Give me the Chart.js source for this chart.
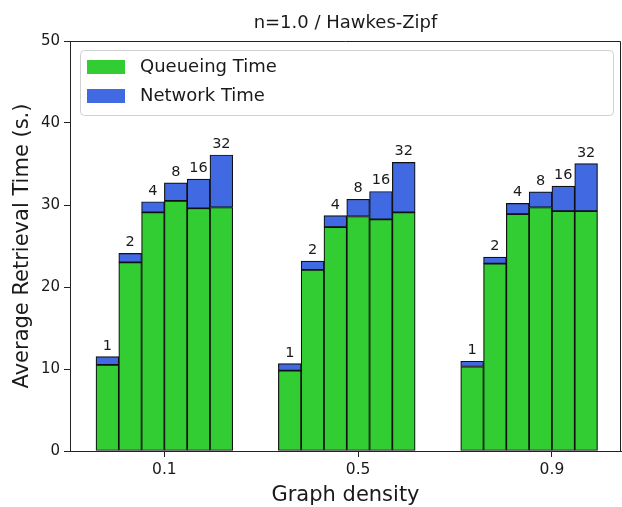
<!DOCTYPE html>
<html>
<head>
<meta charset="utf-8">
<script src="https://cdn.jsdelivr.net/npm/chart.js@4.4.1/dist/chart.umd.min.js"></script>
<style>
  html, body { margin: 0; padding: 0; background: #fff; }
  canvas { display: block; }
</style>
</head>
<body>
<canvas id="chart" width="622" height="507"></canvas>
<script>
// densities on the x axis and worker counts labelled above each bar
const densities = ['0.1', '0.5', '0.9'];
const workers = ['1', '2', '4', '8', '16', '32'];

// seconds, per density group (6 bars each)
const queueingTime = [
  10.5, 23.0, 29.1, 30.5, 29.6, 29.7,
  9.8, 22.1, 27.3, 28.6, 28.25, 29.1,
  10.3, 22.85, 28.9, 29.7, 29.25, 29.25
];
const networkTime = [
  1.0, 1.1, 1.3, 2.2, 3.55, 6.4,
  0.85, 1.05, 1.4, 2.1, 3.4, 6.1,
  0.65, 0.8, 1.3, 1.9, 3.05, 5.8
];
const yTicks = [0, 10, 20, 30, 40, 50];

// bar slots: each group takes 8 slots (6 bars + gap)
const slotsPerGroup = 8;
const tickSlots = [3, 11.5, 20];

const font = "'DejaVu Sans', sans-serif";
const textColor = '#1a1a1a';
const green = '#32cd32';
const blue = '#4169e1';

function barX(i) {
  const g = Math.floor(i / workers.length);
  const k = i % workers.length;
  return g * slotsPerGroup + k + 0.5;
}

const qData = queueingTime.map((v, i) => ({ x: barX(i), y: v }));
const nData = networkTime.map((v, i) => ({ x: barX(i), y: v }));

const overlay = {
  id: 'overlay',
  afterDatasetsDraw(chart) {
    const ctx = chart.ctx;
    const meta = chart.getDatasetMeta(1);
    ctx.save();
    ctx.fillStyle = textColor;
    ctx.font = '14.5px ' + font;
    ctx.textAlign = 'center';
    ctx.textBaseline = 'alphabetic';
    meta.data.forEach((bar, i) => {
      ctx.fillText(workers[i % workers.length], bar.x, bar.y - 7);
    });
    ctx.restore();
  },
  afterDraw(chart) {
    const ctx = chart.ctx;
    const a = chart.chartArea;
    ctx.save();
    // top / right spines
    ctx.strokeStyle = '#222';
    ctx.lineWidth = 1;
    ctx.beginPath();
    ctx.moveTo(a.left, a.top + 0.5);
    ctx.lineTo(a.right - 0.5, a.top + 0.5);
    ctx.lineTo(a.right - 0.5, a.bottom);
    ctx.stroke();

    // title
    ctx.fillStyle = textColor;
    ctx.font = '18px ' + font;
    ctx.textAlign = 'center';
    ctx.textBaseline = 'middle';
    ctx.fillText('n=1.0 / Hawkes-Zipf', (a.left + a.right) / 2, 23);

    // legend
    const lx = 80, ly = 50, lw = 533, lh = 65;
    ctx.beginPath();
    ctx.roundRect(lx + 0.5, ly + 0.5, lw, lh, 4);
    ctx.fillStyle = 'rgba(255,255,255,0.8)';
    ctx.fill();
    ctx.strokeStyle = '#d0d0d0';
    ctx.stroke();
    const items = chart.data.datasets;
    items.forEach((ds, i) => {
      const cy = 67 + i * 29;
      ctx.fillStyle = ds.backgroundColor;
      ctx.fillRect(87, cy - 7, 38, 14);
      ctx.fillStyle = textColor;
      ctx.font = '18px ' + font;
      ctx.textAlign = 'left';
      ctx.textBaseline = 'middle';
      ctx.fillText(ds.label, 140, cy);
    });
    ctx.restore();
  }
};

new Chart(document.getElementById('chart'), {
  type: 'bar',
  data: {
    datasets: [
      {
        label: 'Queueing Time',
        data: qData,
        backgroundColor: green,
        borderColor: '#111',
        borderWidth: 1.2,
        borderSkipped: false,
        barPercentage: 1,
        categoryPercentage: 1
      },
      {
        label: 'Network Time',
        data: nData,
        backgroundColor: blue,
        borderColor: '#111',
        borderWidth: 1.2,
        borderSkipped: false,
        barPercentage: 1,
        categoryPercentage: 1
      }
    ]
  },
  options: {
    responsive: false,
    animation: false,
    devicePixelRatio: 1,
    layout: { padding: { top: 41, right: 1, left: 0, bottom: 0 } },
    plugins: {
      legend: { display: false },
      tooltip: { enabled: false },
      title: { display: false }
    },
    scales: {
      x: {
        type: 'linear',
        stacked: true,
        offset: false,
        min: -1.14,
        max: 23.03,
        afterFit(s) { s.height = 56; },
        afterBuildTicks(s) {
          s.ticks = tickSlots.map(v => ({ value: v }));
        },
        grid: { offset: false, drawOnChartArea: false, drawTicks: true, tickLength: 6, color: '#222' },
        border: { display: true, color: '#222', width: 1 },
        ticks: {
          autoSkip: false,
          maxRotation: 0,
          padding: 4,
          color: textColor,
          font: { family: font, size: 15.5 },
          callback: (v) => {
            const idx = tickSlots.indexOf(v);
            return idx >= 0 ? densities[idx] : '';
          }
        },
        title: {
          display: true,
          text: 'Graph density',
          color: textColor,
          font: { family: font, size: 21 },
          padding: { top: 0, bottom: -1 }
        }
      },
      y: {
        stacked: true,
        min: 0,
        max: 50,
        afterFit(s) { s.width = 70; },
        afterBuildTicks(s) {
          s.ticks = yTicks.map(v => ({ value: v }));
        },
        grid: { drawOnChartArea: false, drawTicks: true, tickLength: 6, color: '#222' },
        border: { display: true, color: '#222', width: 1 },
        ticks: {
          padding: 4,
          color: textColor,
          font: { family: font, size: 15 }
        },
        title: {
          display: true,
          text: 'Average Retrieval Time (s.)',
          color: textColor,
          font: { family: font, size: 21 },
          padding: { top: 10, bottom: 0 }
        }
      }
    }
  },
  plugins: [overlay]
});
</script>
</body>
</html>
